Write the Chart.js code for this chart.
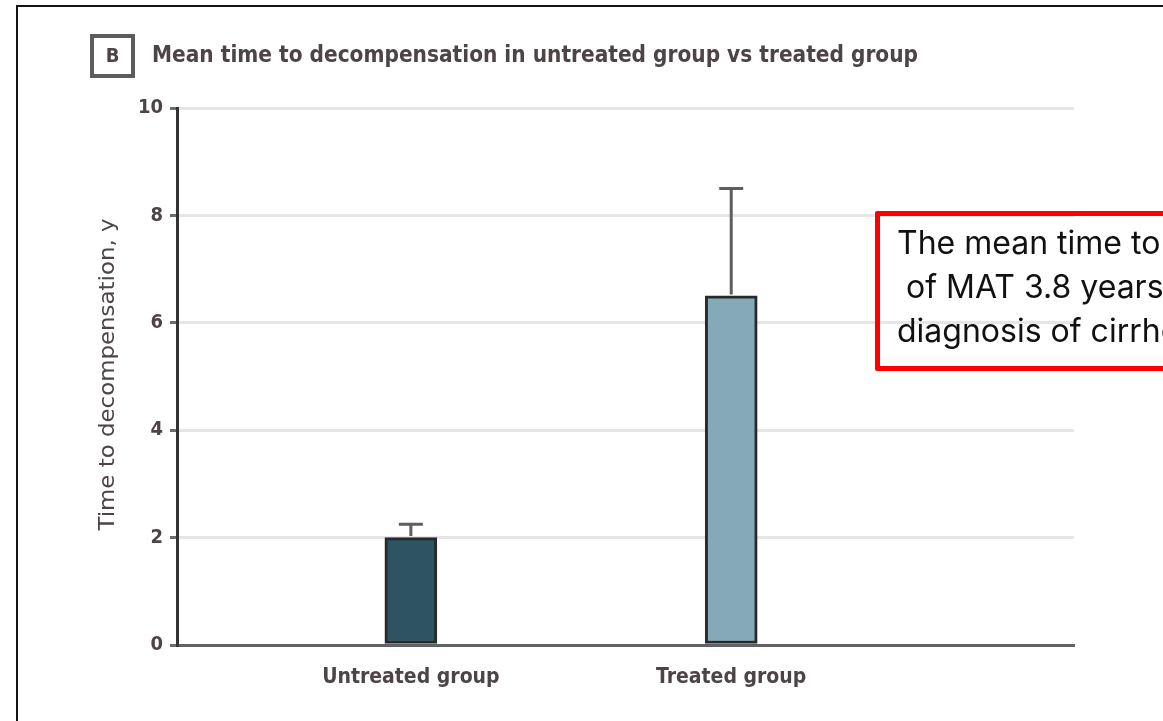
<!DOCTYPE html>
<html>
<head>
<meta charset="utf-8">
<script src="https://cdn.jsdelivr.net/npm/chart.js@4.4.1/dist/chart.umd.min.js"></script>
<style>
  html, body { margin: 0; padding: 0; background: #ffffff; overflow: hidden; width: 1163px; height: 721px; }
  #frame { position: absolute; left: 16px; top: 5px; width: 2000px; height: 2000px;
           border-left: 2px solid #141414; border-top: 2px solid #141414; }
  #chart { position: absolute; left: 0; top: 0; }
  #note { position: absolute; left: 875px; top: 211px; width: 420px; height: 145px;
          border: 5px solid #ff0000; border-radius: 2px; background: transparent;
          font-family: Inter, Roboto, "Noto Sans", sans-serif; font-size: 32px; line-height: 44px;
          color: #111111; white-space: pre; padding: 5px 0 0 17px; box-sizing: content-box; }
</style>
</head>
<body>
<div id="frame"></div>
<canvas id="chart" width="1163" height="721"></canvas>
<div id="note">The mean time to decompensation
 of MAT 3.8 years after the
diagnosis of cirrhosis</div>
<script>
// Groups along the x axis
const categories = ['Untreated group', 'Treated group'];
// Mean time to decompensation (years)
const meanYears = [2.0, 6.5];
// Upper error (years above the mean)
const upperError = [0.25, 2.0];
// Y axis tick values
const yTicks = [0, 2, 4, 6, 8, 10];

const panelLetter = 'B';
const panelTitle = 'Mean time to decompensation in untreated group vs treated group';
const yTitle = 'Time to decompensation, y';

const FONT = "'Liberation Sans Narrow', 'DejaVu Sans Condensed', 'Arial Narrow', 'Liberation Sans', sans-serif";
const TEXT_COLOR = '#4e4446';

// Error bars above each bar
const errorBars = {
  id: 'errorBars',
  afterDatasetsDraw(chart) {
    const xs = chart.scales.x, ys = chart.scales.y;
    const ctx = chart.ctx;
    ctx.save();
    ctx.strokeStyle = '#5e5e5e';
    ctx.lineWidth = 3;
    meanYears.forEach((m, i) => {
      const x = xs.getPixelForValue(i);
      const y0 = ys.getPixelForValue(m) - 1.5;
      const y1 = ys.getPixelForValue(m + upperError[i]);
      ctx.beginPath();
      ctx.moveTo(x, y0);
      ctx.lineTo(x, y1);
      ctx.moveTo(x - 12, y1);
      ctx.lineTo(x + 12, y1);
      ctx.stroke();
    });
    ctx.restore();
  }
};

// Panel letter box, panel title and rotated y axis title
const panelText = {
  id: 'panelText',
  afterDraw(chart) {
    const ctx = chart.ctx;
    const area = chart.chartArea;
    ctx.save();
    // letter box
    ctx.strokeStyle = '#5c5c5c';
    ctx.lineWidth = 4;
    ctx.strokeRect(92, 36, 41, 40);
    ctx.fillStyle = TEXT_COLOR;
    ctx.font = 'bold 20px ' + FONT;
    ctx.textAlign = 'center';
    ctx.textBaseline = 'middle';
    ctx.fillText(panelLetter, 112.5, 57);

    // title, fitted to its span
    ctx.font = 'bold 23px ' + FONT;
    ctx.textAlign = 'left';
    const w = ctx.measureText(panelTitle).width;
    ctx.save();
    ctx.translate(152, 56);
    ctx.scale(766 / w, 1);
    ctx.fillText(panelTitle, 0, 0);
    ctx.restore();

    // y axis title
    ctx.font = '22px ' + FONT;
    const wy = ctx.measureText(yTitle).width;
    ctx.save();
    ctx.translate(108, (area.top + area.bottom) / 2 - 2);
    ctx.rotate(-Math.PI / 2);
    ctx.scale(312 / wy, 1);
    ctx.textAlign = 'center';
    ctx.fillText(yTitle, 0, 0);
    ctx.restore();
    ctx.restore();
  }
};

new Chart(document.getElementById('chart'), {
  type: 'bar',
  data: {
    datasets: [{
      data: meanYears.map((v, i) => ({ x: i, y: v })),
      backgroundColor: ['#2e5462', '#86a9b7'],
      borderColor: '#262a2c',
      borderWidth: 3,
      borderSkipped: false,
      barThickness: 52
    }]
  },
  options: {
    responsive: false,
    animation: false,
    events: [],
    layout: { padding: { top: 108, right: 89, bottom: 0, left: 0 } },
    plugins: { legend: { display: false }, tooltip: { enabled: false }, title: { display: false } },
    scales: {
      x: {
        type: 'linear',
        offset: false,
        min: -0.73,
        max: 2.07,
        afterBuildTicks: s => { s.ticks = categories.map((_, i) => ({ value: i })); },
        afterFit: s => { s.height = 76; },
        grid: { display: false },
        border: { display: true, color: '#626262', width: 3 },
        ticks: {
          callback: v => categories[v] ?? '',
          font: { family: FONT, size: 21, weight: 'bold' },
          color: TEXT_COLOR,
          padding: 12,
          maxRotation: 0
        }
      },
      y: {
        min: 0,
        max: 10,
        afterBuildTicks: s => { s.ticks = yTicks.map(v => ({ value: v })); },
        afterFit: s => { s.width = 177; },
        grid: { color: '#e6e6e6', lineWidth: 3, tickColor: '#6c6c6c', tickLength: 7, tickWidth: 3 },
        border: { display: true, color: '#333333', width: 3 },
        ticks: {
          font: { family: FONT, size: 20, weight: 'bold' },
          color: TEXT_COLOR,
          padding: 7
        }
      }
    }
  },
  plugins: [errorBars, panelText]
});
</script>
</body>
</html>
